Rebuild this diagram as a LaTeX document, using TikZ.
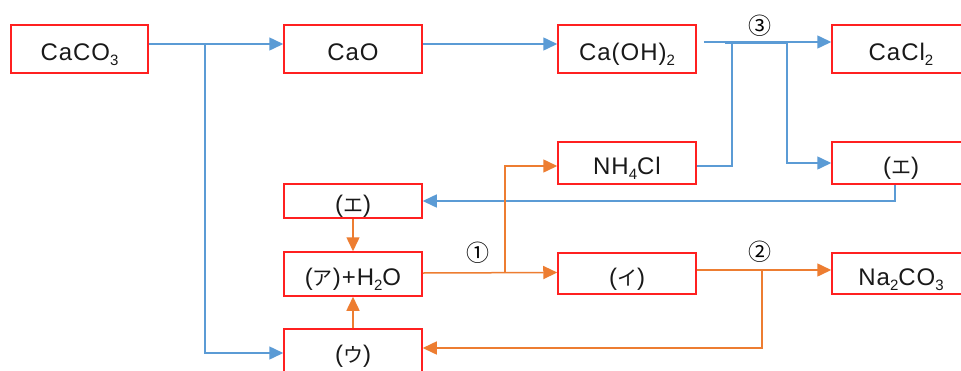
\documentclass[tikz,border=0pt]{standalone}
\usepackage{fontspec}
\setmainfont{Liberation Sans}[LetterSpace=4]
\newfontfamily\jp{Noto Sans CJK JP}
\usetikzlibrary{arrows.meta}
\definecolor{bl}{HTML}{5B9BD5}
\definecolor{og}{HTML}{ED7D31}
\definecolor{bx}{HTML}{FF2020}
\newcommand\chs[1]{\raisebox{-0.4ex}{\fontsize{15}{15}\selectfont #1}}
\newcommand\kt[1]{{\jp\fontsize{20}{20}\selectfont #1}}
\begin{document}
\begin{tikzpicture}[x=1pt,y=-1pt,
 box/.style={draw=bx, line width=1.5pt, minimum width=138pt, inner sep=0pt, text height=23pt, text depth=0pt, font=\fontsize{24}{24}\selectfont, text=black!90},
 bline/.style={draw=bl, line width=1.5pt},
 oline/.style={draw=og, line width=1.5pt},
 tip/.style={-{Triangle[length=14pt,width=13pt]}},
 lab/.style={font=\jp\fontsize{23}{23}\selectfont}]
\useasboundingbox (0,0) rectangle (961,370);
\fill[white] (0,0) rectangle (961,370);
% boxes
\node[box, minimum width=137pt, minimum height=48pt] (caco3) at (79.5,49) {CaCO\chs{3}};
\node[box, minimum height=48pt] (cao) at (353,49) {CaO};
\node[box, minimum height=48pt] (caoh) at (627,49) {Ca(OH)\chs{2}};
\node[box, minimum height=48pt] (cacl) at (901,49) {CaCl\chs{2}};
\node[box, minimum height=42pt] (nh4) at (627,163) {NH\chs{4}Cl};
\node[box, minimum height=42pt] (er) at (901,163) {(\kt{エ})};
\node[box, minimum height=34pt] (el) at (353,201) {(\kt{エ})};
\node[box, minimum height=44pt] (a) at (353,274) {(\kt{ア})+H\chs{2}O};
\node[box, minimum height=41pt] (i) at (627,273.5) {(\kt{イ})};
\node[box, minimum height=41pt] (na) at (901,273.5) {Na\chs{2}CO\chs{3}};
\node[box, minimum height=44pt] (u) at (353,351) {(\kt{ウ})};
% labels
\node[lab] (l3) at (760,26) {③};
\node[lab] (l1) at (478,253) {①};
\node[lab] (l2) at (760,252) {②};
% junctions
\coordinate (j1) at (205,44);
\coordinate (j3a) at (732,42);
\coordinate (j3b) at (787,42);
\coordinate (j1o) at (505,273);
\coordinate (j2o) at (762,270);
% blue connectors
\draw[bline,tip] ([yshift=5pt]caco3.east) -- ([yshift=5pt]cao.west);
\draw[bline,tip] (j1) |- ([yshift=-2pt]u.west);
\draw[bline,tip] ([yshift=5pt]cao.east) -- ([yshift=5pt]caoh.west);
\draw[bline,tip] ([xshift=7pt,yshift=7pt]caoh.east) -- ([yshift=7pt]cacl.west);
\draw[draw=bl, line width=3pt] (725,42) -- (788,42);
\draw[bline] ([yshift=-3pt]nh4.east) -| (j3a);
\draw[bline,tip] (j3b) |- (er.west);
\draw[bline,tip] ([xshift=-6pt]er.south) |- (el.east);
% orange connectors
\draw[oline,tip] (el.south) -- (a.north);
\draw[oline,tip] (u.north) -- (a.south);
\draw[oline,tip] ([yshift=1pt]a.east) -- ([yshift=1pt]i.west);
\draw[oline,tip] (j1o) |- ([yshift=-3pt]nh4.west);
\draw[oline,tip] ([yshift=3.5pt]i.east) -- ([yshift=3.5pt]na.west);
\draw[oline,tip] (j2o) |- ([yshift=3pt]u.east);
\end{tikzpicture}
\end{document}
